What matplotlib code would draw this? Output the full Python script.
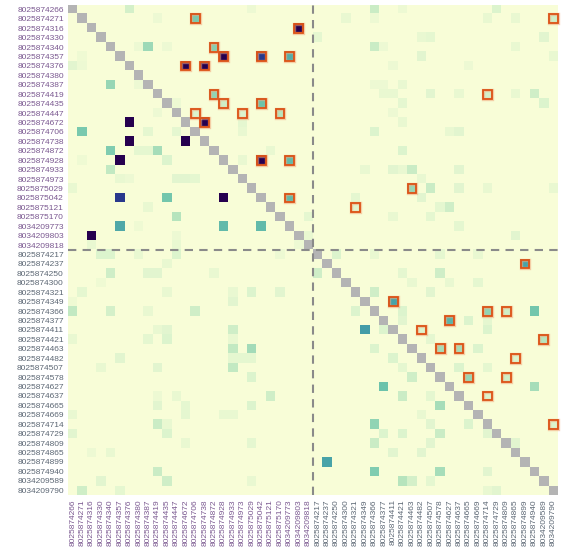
import numpy as np
import matplotlib
matplotlib.use("Agg")
import matplotlib.pyplot as plt
from matplotlib.colors import LinearSegmentedColormap, ListedColormap
from matplotlib.patches import Rectangle

GROUP_A = ["8025874266", "8025874271", "8025874316", "8025874330", "8025874340",
           "8025874357", "8025874376", "8025874380", "8025874387", "8025874419",
           "8025874435", "8025874447", "8025874672", "8025874706", "8025874738",
           "8025874872", "8025874928", "8025874933", "8025874973", "8025875029",
           "8025875042", "8025875121", "8025875170", "8034209773", "8034209803",
           "8034209818"]
GROUP_B = ["8025874217", "8025874237", "8025874250", "8025874300", "8025874321",
           "8025874349", "8025874366", "8025874377", "8025874411", "8025874421",
           "8025874463", "8025874482", "8025874507", "8025874578", "8025874627",
           "8025874637", "8025874665", "8025874669", "8025874714", "8025874729",
           "8025874809", "8025874865", "8025874899", "8025874940", "8034209589",
           "8034209790"]
LABELS = GROUP_A + GROUP_B

# stronger cells (row, col, value) - not outlined
STRONG = [(4, 8, 0.38), (8, 4, 0.40), (12, 6, 1.0), (13, 1, 0.50), (14, 6, 1.0),
          (14, 12, 1.0), (15, 4, 0.48), (15, 9, 0.35), (16, 5, 1.0), (17, 4, 0.25),
          (20, 5, 0.88), (20, 10, 0.52), (20, 16, 1.0), (22, 11, 0.30), (23, 5, 0.64),
          (23, 16, 0.58), (23, 20, 0.58), (24, 2, 1.0), (32, 49, 0.52), (34, 31, 0.68),
          (40, 33, 0.55), (48, 27, 0.66), (49, 32, 0.48), (44, 32, 0.42),
          (36, 19, 0.36), (49, 39, 0.35), (42, 39, 0.35), (40, 49, 0.35), (50, 35, 0.30)]

# outlined cells (row, col, value)
OUTLINED = [(1, 13, 0.50), (1, 51, 0.20), (2, 24, 1.0), (4, 15, 0.45), (5, 16, 1.0),
            (5, 20, 0.88), (5, 23, 0.62), (6, 12, 1.0), (6, 14, 1.0), (9, 15, 0.42),
            (9, 44, 0.18), (10, 16, 0.20), (10, 20, 0.55), (11, 13, 0.15), (11, 18, 0.15),
            (11, 22, 0.30), (12, 14, 1.0), (16, 20, 1.0), (16, 23, 0.58), (19, 36, 0.40),
            (20, 23, 0.58), (21, 30, 0.12), (27, 48, 0.66), (31, 34, 0.66), (32, 44, 0.42),
            (32, 46, 0.20), (33, 40, 0.60), (34, 37, 0.15), (35, 50, 0.30), (36, 39, 0.35),
            (36, 41, 0.35), (37, 47, 0.15), (39, 42, 0.40), (39, 46, 0.20), (41, 44, 0.15),
            (44, 51, 0.15)]

# faint cells (row, col, value)
FAINT = [(0, 6, 0.18), (0, 19, 0.06), (0, 32, 0.22), (0, 45, 0.15), (0, 35, 0.06),
         (1, 9, 0.06), (1, 29, 0.08), (1, 32, 0.06), (1, 44, 0.08), (1, 47, 0.08),
         (3, 37, 0.08), (3, 38, 0.1), (3, 50, 0.12), (3, 26, 0.1), (4, 7, 0.06), (4, 10, 0.06),
         (4, 32, 0.22), (4, 33, 0.06), (4, 47, 0.08), (5, 1, 0.05), (5, 37, 0.12),
         (5, 51, 0.08), (6, 0, 0.12), (6, 1, 0.06), (6, 34, 0.06), (6, 42, 0.06),
         (8, 7, 0.06), (8, 32, 0.06), (8, 33, 0.06), (8, 35, 0.08), (9, 33, 0.08),
         (9, 34, 0.08), (9, 38, 0.12), (9, 41, 0.08), (9, 47, 0.08), (9, 49, 0.2),
         (10, 35, 0.1), (10, 50, 0.15), (10, 11, 0.06), (11, 34, 0.06), (11, 9, 0.06),
         (12, 18, 0.1), (12, 35, 0.08), (13, 8, 0.1), (13, 11, 0.1), (13, 18, 0.08),
         (13, 32, 0.15), (13, 40, 0.08), (13, 41, 0.12), (15, 7, 0.1), (15, 8, 0.1),
         (15, 21, 0.08), (15, 35, 0.15), (16, 1, 0.05), (16, 10, 0.15), (16, 18, 0.08),
         (17, 31, 0.08), (17, 34, 0.12), (17, 35, 0.08), (17, 36, 0.22), (17, 41, 0.12),
         (18, 5, 0.08), (18, 6, 0.06), (18, 11, 0.12), (18, 12, 0.12), (18, 13, 0.1),
         (18, 37, 0.08), (19, 0, 0.08), (19, 38, 0.22), (19, 41, 0.12), (19, 44, 0.08),
         (19, 51, 0.08), (20, 30, 0.1), (20, 37, 0.12), (21, 8, 0.08), (21, 40, 0.2),
         (21, 39, 0.1), (22, 25, 0.1), (22, 34, 0.08), (22, 38, 0.1), (23, 7, 0.05),
         (23, 41, 0.1), (24, 11, 0.06), (24, 25, 0.08), (24, 47, 0.12), (25, 2, 0.08),
         (25, 11, 0.08), (25, 24, 0.06),
         (26, 3, 0.15), (26, 4, 0.15), (26, 7, 0.08), (26, 11, 0.15), (26, 22, 0.06),
         (26, 28, 0.15), (26, 32, 0.08), (26, 39, 0.1), (26, 43, 0.08), (27, 10, 0.08),
         (28, 4, 0.2), (28, 8, 0.12), (28, 9, 0.12), (28, 15, 0.08), (28, 26, 0.2),
         (28, 35, 0.1), (28, 39, 0.2), (29, 3, 0.05), (29, 36, 0.08), (29, 40, 0.08),
         (29, 43, 0.1), (30, 1, 0.1), (30, 10, 0.08), (30, 17, 0.08), (30, 19, 0.15),
         (30, 22, 0.12), (30, 32, 0.2), (30, 38, 0.12), (31, 17, 0.12), (31, 0, 0.05),
         (32, 0, 0.25), (32, 4, 0.18), (32, 8, 0.08), (32, 13, 0.2), (32, 30, 0.15),
         (32, 35, 0.15), (33, 35, 0.12), (33, 42, 0.15), (33, 44, 0.1), (34, 9, 0.08),
         (34, 10, 0.12), (34, 17, 0.2), (34, 33, 0.15), (34, 44, 0.15), (35, 0, 0.08),
         (35, 8, 0.1), (35, 10, 0.15), (35, 17, 0.08), (35, 38, 0.1), (36, 17, 0.25),
         (36, 32, 0.15), (36, 43, 0.15), (37, 5, 0.12), (37, 17, 0.1), (37, 18, 0.1),
         (37, 19, 0.1), (37, 34, 0.15), (38, 3, 0.08), (38, 9, 0.12), (38, 17, 0.25),
         (38, 35, 0.1), (38, 38, 0.12), (38, 41, 0.15), (38, 44, 0.1), (39, 19, 0.15),
         (39, 36, 0.2), (40, 40, 0.2), (41, 9, 0.06), (41, 11, 0.08), (41, 21, 0.2),
         (41, 35, 0.22), (41, 38, 0.1), (42, 9, 0.12), (42, 12, 0.1), (42, 19, 0.15),
         (43, 0, 0.08), (43, 12, 0.1), (43, 16, 0.08), (43, 17, 0.08), (43, 37, 0.08),
         (44, 9, 0.22), (44, 10, 0.08), (44, 38, 0.12), (44, 42, 0.15), (45, 0, 0.12),
         (45, 10, 0.15), (45, 33, 0.15), (45, 35, 0.15), (45, 39, 0.22), (45, 44, 0.12),
         (46, 12, 0.08), (46, 19, 0.1), (46, 32, 0.22), (46, 38, 0.12), (46, 47, 0.12),
         (47, 2, 0.06), (47, 4, 0.08), (47, 34, 0.12), (47, 37, 0.12), (49, 9, 0.22),
         (49, 44, 0.12), (50, 3, 0.12), (50, 10, 0.2), (50, 19, 0.08), (50, 36, 0.18),
         (50, 38, 0.1), (51, 1, 0.2), (51, 5, 0.1), (51, 45, 0.12), (51, 44, 0.08)]

n = len(LABELS)
split = len(GROUP_A)

mat = np.zeros((n, n))
for r, c, v in FAINT + STRONG + OUTLINED:
    mat[r, c] = v
diag = np.eye(n, dtype=bool)
vals = np.ma.masked_where(diag, mat)
diag_img = np.ma.masked_where(~diag, np.ones((n, n)))

cmap = LinearSegmentedColormap.from_list("heat", [
    (0.0, "#f8fdd7"), (0.15, "#dcf4cd"), (0.3, "#b6e4bd"), (0.45, "#88d0b2"),
    (0.55, "#6cc3ab"), (0.67, "#45a0a8"), (0.8, "#327aa0"), (0.88, "#2a3a8e"),
    (1.0, "#26004f")])

fig = plt.figure(figsize=(5.71, 5.53), dpi=100)
ax = fig.add_axes([68 / 571, 58 / 553, 490 / 571, 490.3 / 553])
ax.imshow(vals, cmap=cmap, vmin=0, vmax=1, interpolation="nearest", aspect="auto")
ax.imshow(diag_img, cmap=ListedColormap(["#b4b4b4"]), interpolation="nearest", aspect="auto")

for r, c, v in OUTLINED:
    ax.add_patch(Rectangle((c - 0.47, r - 0.47), 0.94, 0.94, fill=False,
                           edgecolor="#f2a77a", linewidth=2.4, alpha=0.55, clip_on=False))
    ax.add_patch(Rectangle((c - 0.47, r - 0.47), 0.94, 0.94, fill=False,
                           edgecolor="#dc5216", linewidth=1.3, clip_on=False))

ax.axvline(split - 0.5, color="#8a8a8a", linestyle=(0, (4, 3)), linewidth=1.5)
ax.axhline(split - 0.5, color="#8a8a8a", linestyle=(0, (4, 3)), linewidth=1.5)

ax.set_xlim(-0.5, n - 0.5)
ax.set_ylim(n - 0.5, -0.5)
ax.set_xticks(range(n))
ax.set_yticks(range(n))
ax.set_xticklabels(LABELS, rotation=90, fontsize=6.0, family="Liberation Sans")
ax.set_yticklabels(LABELS, fontsize=6.0, family="Liberation Sans")
ax.tick_params(length=0, pad=3)
for i, (tx, ty) in enumerate(zip(ax.get_xticklabels(), ax.get_yticklabels())):
    col = "#7a5890" if i < split else "#5c6774"
    tx.set_color(col)
    ty.set_color(col)
for s in ax.spines.values():
    s.set_visible(False)

fig.savefig("out.png", dpi=100)
